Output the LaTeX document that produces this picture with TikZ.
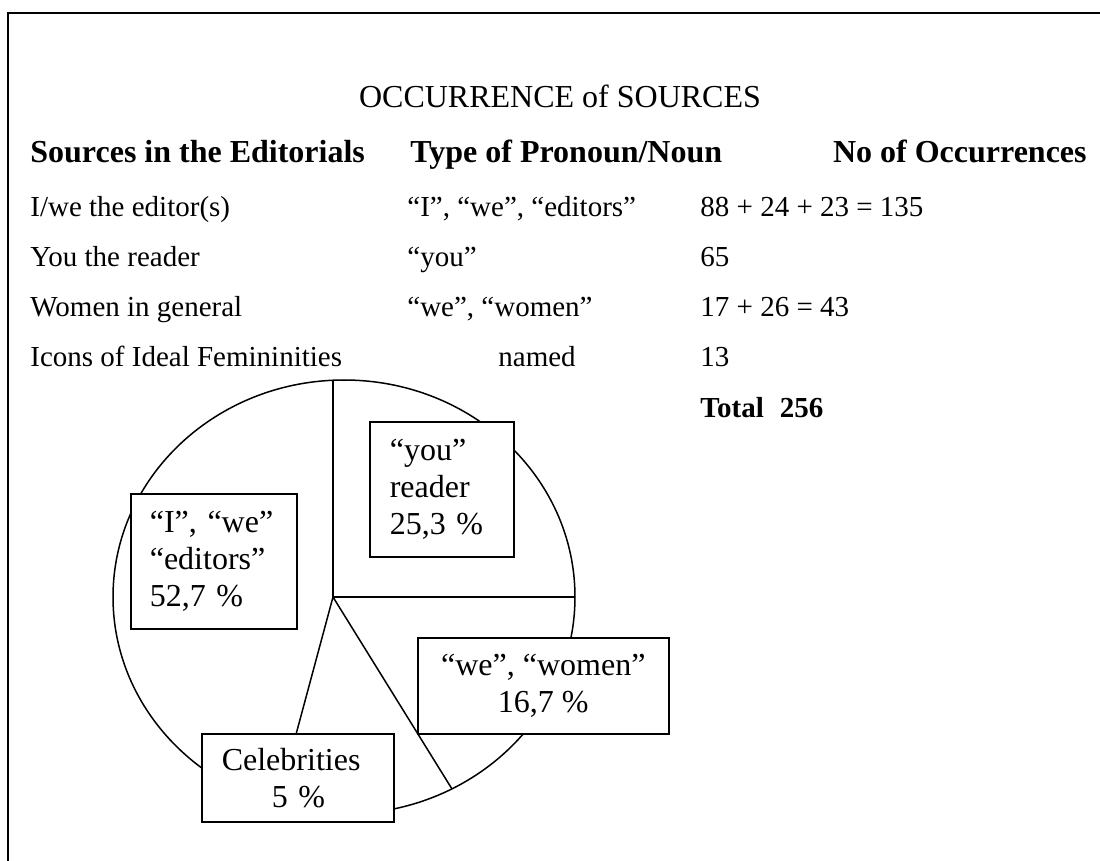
\documentclass[tikz,border=0pt]{standalone}
\usepackage{fontspec}
\setmainfont{Liberation Serif}
\usetikzlibrary{positioning}
\tikzset{
  cell/.style={anchor=base west,inner sep=0pt,font=\fontsize{14.5}{16}\selectfont},
  head/.style={cell,font=\fontsize{16}{18}\selectfont\bfseries},
  slicebox/.style={draw,line width=0.8pt,fill=white,inner ysep=0pt,
    font=\fontsize{16}{18.5}\selectfont},
}
\begin{document}
\begin{tikzpicture}[x=0.5pt,y=-0.5pt]
\useasboundingbox (0,0) rectangle (1100,861);
%% frame
\draw[line width=1pt] (8,861) -- (8,13) -- (1100,13);
\node[anchor=base,inner sep=0pt,font=\fontsize{16}{18}\selectfont] (title) at (560,108) {OCCURRENCE of SOURCES};
% table
\node[head] (hsrc) at (30,163) {Sources in the Editorials};
\node[head] (hkind) at (410,163) {Type of Pronoun/Noun};
\node[head,anchor=base east] (hnum) at (1087,163) {No of Occurrences};
\foreach \n/\y/\src/\kx/\kind/\num in {
    1/217/{I/we the editor(s)}/407/{``I'', ``we'', ``editors''}/{88 + 24 + 23 = 135},
    2/267/{You the reader}/407/{``you''}/{65},
    3/317/{Women in general}/407/{``we'', ``women''}/{17 + 26 = 43},
    4/367/{Icons of Ideal Femininities}/498/{named}/{13}}
{
  \node[cell] (src\n) at (30,\y) {\src};
  \node[cell] (kind\n) at (\kx,\y) {\kind};
  \node[cell] (num\n) at (700,\y) {\num};
}
\node[head,font=\fontsize{14.5}{16}\selectfont\bfseries] (total) at (700,418) {Total\hspace{8pt}256};
%% pie
\coordinate (O) at (333,597);
\draw[line width=0.75pt] (344,597) ellipse [x radius=231, y radius=217];
\draw[line width=0.75pt] (333,380) -- (O) -- (575,597);
\draw[line width=0.75pt] (452,789) -- (O) -- (277,805);
% labels
\node[slicebox,anchor=north west,minimum height=67.5pt,text width=64pt,inner xsep=9.5pt,align=left] (editors) at (130,493) {``I'', ``we''\\``editors''\\52,7 \%};
\node[slicebox,anchor=north west,minimum height=67.5pt,text width=52pt,inner xsep=10pt,align=left] (reader) at (369,421) {``you''\\reader\\25,3 \%};
\node[slicebox,anchor=north west,minimum height=48pt,minimum width=125.5pt,align=center] (women) at (417,637) {``we'', ``women''\\16,7 \%};
\node[slicebox,anchor=north west,minimum height=44pt,text width=76pt,inner xsep=10pt,align=left] (celeb) at (201,733) {Celebrities\\\hspace*{25pt}5 \%};
\end{tikzpicture}
\end{document}
